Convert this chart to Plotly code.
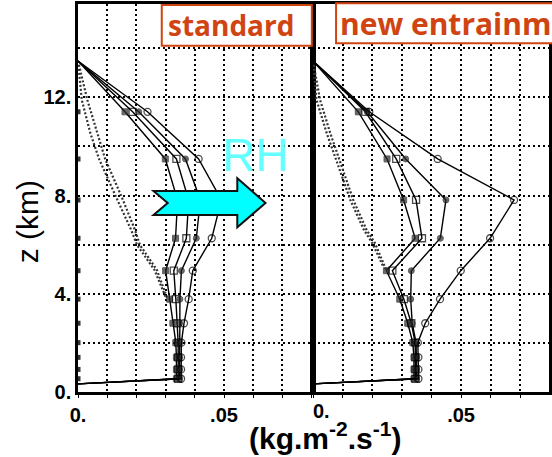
import plotly.graph_objects as go

# ---------------- data ----------------
# model levels (km) carrying markers
levels = [11.41, 9.49, 7.82, 6.26, 4.94, 3.78, 2.80, 2.01, 1.41, 0.92, 0.54]
z_top = 13.48
z_bot = 0.33

# "standard" panel, four RH experiments
std_a = [0.0161, 0.0299, 0.0341, 0.0334, 0.0300, 0.0314, 0.0325, 0.0335, 0.0337, 0.0337, 0.0337]
std_b = [0.0187, 0.0337, 0.0379, 0.0371, 0.0328, 0.0335, 0.0340, 0.0343, 0.0343, 0.0343, 0.0343]
std_c = [0.0208, 0.0368, 0.0419, 0.0405, 0.0354, 0.0349, 0.0348, 0.0348, 0.0348, 0.0348, 0.0348]
std_d = [0.0238, 0.0413, 0.0491, 0.0458, 0.0393, 0.0379, 0.0363, 0.0354, 0.0353, 0.0353, 0.0353]

# "new entrainment" panel
new_a = [0.0153, 0.0250, 0.0306, 0.0345, 0.0248, 0.0293, 0.0320, 0.0337, 0.0341, 0.0341, 0.0341]
new_b = [0.0177, 0.0281, 0.0348, 0.0368, 0.0268, 0.0307, 0.0332, 0.0345, 0.0346, 0.0346, 0.0346]
new_c = [0.0183, 0.0313, 0.0449, 0.0430, 0.0332, 0.0330, 0.0335, 0.0348, 0.0350, 0.0350, 0.0350]
new_d = [0.0190, 0.0421, 0.0679, 0.0598, 0.0499, 0.0429, 0.0379, 0.0354, 0.0356, 0.0356, 0.0356]

# dotted reference profiles
std_dot_z1 = [13.48, 11.89, 10.55, 9.49, 7.82, 6.60, 5.99, 4.97, 3.87, 3.78]
std_dot_x1 = [0.0, 0.0032, 0.0066, 0.0093, 0.0154, 0.0195, 0.0212, 0.0270, 0.0304, 0.0314]
std_dot_z2 = [13.48, 11.89, 10.55, 9.49, 7.82, 6.60, 5.99, 4.97, 3.87]
std_dot_x2 = [0.0, 0.0013, 0.0042, 0.0072, 0.0135, 0.0182, 0.0202, 0.0262, 0.0300]

new_dot_z1 = [13.48, 11.89, 10.55, 9.16, 7.82, 6.60, 6.07, 5.09, 4.94]
new_dot_x1 = [0.0, 0.0024, 0.0058, 0.0097, 0.0136, 0.0181, 0.0209, 0.0243, 0.0248]
new_dot_z2 = [13.48, 11.89, 10.55, 9.16, 7.82, 6.60, 6.07, 5.09]
new_dot_x2 = [0.0, 0.0012, 0.0046, 0.0086, 0.0126, 0.0172, 0.0200, 0.0238]

x_tickvals = [0.0, 0.01, 0.02, 0.03, 0.04, 0.05, 0.06, 0.07, 0.08]
x_ticktext = ["0.", "", "", "", "", ".05", "", "", ""]
y_tickvals = [0, 2, 4, 6, 8, 10, 12, 14]
y_ticktext = ["0.", "", "4.", "", "8.", "", "12.", ""]

# ---------------- figure ----------------
W, H = 552, 457
ML, MR, MT, MB = 78, 0, 4, 65
PW, PH = W - ML - MR, H - MT - MB


def px(xp):
    return (xp - ML) / PW


def py(yp):
    return (H - MB - yp) / PH


fig = go.Figure()

series_style = [
    dict(symbol="square", color="#2a2a2a", line=dict(color="#1a1a1a", width=1), size=6),
    dict(symbol="square-open", color="black", line=dict(color="black", width=1.3), size=7),
    dict(symbol="circle", color="#2a2a2a", line=dict(color="#1a1a1a", width=1), size=6),
    dict(symbol="circle-open", color="black", line=dict(color="black", width=1.3), size=7),
]

zfull = [z_top] + levels + [z_bot]


def add_panel(series, dots, xa, ya):
    for (dx, dz) in dots:
        fig.add_trace(go.Scatter(x=dx, y=dz, mode="lines", xaxis=xa, yaxis=ya,
                                 line=dict(color="#333333", width=2.2, dash="2px,2px"),
                                 showlegend=False, hoverinfo="skip"))
    for vals, st in zip(series, series_style):
        xs = [0.0] + vals + [0.0]
        sizes = [0] + [st["size"]] * len(vals) + [0]
        fig.add_trace(go.Scatter(
            x=xs, y=zfull, mode="lines+markers", xaxis=xa, yaxis=ya,
            line=dict(color="black", width=1.4),
            marker=dict(symbol=st["symbol"], color=st["color"], size=sizes,
                        line=st["line"]),
            showlegend=False, hoverinfo="skip"))


add_panel([std_a, std_b, std_c, std_d],
          [(std_dot_x1, std_dot_z1), (std_dot_x2, std_dot_z2)], "x", "y")
add_panel([new_a, new_b, new_c, new_d],
          [(new_dot_x1, new_dot_z1), (new_dot_x2, new_dot_z2)], "x2", "y2")

# small level marks on the left axis of the standard panel
fig.add_trace(go.Scatter(x=[0.0] * len(levels), y=levels, mode="markers",
                         xaxis="x", yaxis="y",
                         marker=dict(symbol="square", size=5, color="#333333"),
                         showlegend=False, hoverinfo="skip"))

axis_common = dict(
    showgrid=True, gridcolor="black", gridwidth=1.5, griddash="2px,3px",
    zeroline=False, showline=True, linecolor="black", linewidth=2.5, mirror=True,
    tickfont=dict(family="Liberation Sans, Arial", size=20, color="black", weight="bold"),
)

fig.update_layout(
    width=W, height=H,
    margin=dict(l=ML, r=MR, t=MT, b=MB, pad=0),
    paper_bgcolor="white", plot_bgcolor="white",
    showlegend=False,
    xaxis=dict(domain=[0, px(314)], range=[0, 0.0803], tickvals=x_tickvals,
               ticktext=x_ticktext, ticks="outside", ticklen=3, tickcolor="black",
               anchor="y", **axis_common),
    xaxis2=dict(domain=[px(314.5), 1], range=[0, 0.0797], tickvals=x_tickvals,
                ticktext=[""] + x_ticktext[1:], ticks="outside", ticklen=3,
                tickcolor="black", anchor="y2", **axis_common),
    yaxis=dict(range=[0, 15.8], tickvals=y_tickvals, ticktext=y_ticktext,
               ticks="", anchor="x", **axis_common),
    yaxis2=dict(range=[0, 15.8], tickvals=y_tickvals, showticklabels=False,
                ticks="", anchor="x2", matches="y", **axis_common),
)

# ---- decorations ----
orange = "#D04412"
shapes = [
    dict(type="rect", xref="paper", yref="paper", x0=px(162.3), x1=px(313.3),
         y0=py(45.7), y1=py(5), line=dict(color=orange, width=2), fillcolor="white",
         layer="above"),
    dict(type="rect", xref="paper", yref="paper", x0=px(337.7), x1=px(575),
         y0=py(43.3), y1=py(3.3), line=dict(color=orange, width=2), fillcolor="white",
         layer="above"),
]
arrow_pts = [(154, 191), (238.3, 191), (238.3, 178.3), (266.7, 203), (238.3, 227.3),
             (238.3, 215), (154, 215), (168.3, 203)]
path = "M " + " L ".join(f"{px(a):.5f},{py(b):.5f}" for a, b in arrow_pts) + " Z"
shapes.append(dict(type="path", xref="paper", yref="paper", path=path,
                   fillcolor="#00FFFF", line=dict(color="#111111", width=2),
                   layer="above"))
fig.update_layout(shapes=shapes)

ann = [
    dict(text="standard", x=px(231.5), y=py(25), xref="paper", yref="paper",
         showarrow=False, xanchor="center", yanchor="middle",
         font=dict(family="Open Sans", size=28, color=orange, weight="bold")),
    dict(text="new entrainment", x=px(340), y=py(23), xref="paper", yref="paper",
         showarrow=False, xanchor="left", yanchor="middle",
         font=dict(family="Open Sans", size=30, color=orange, weight="bold")),
    dict(text="RH", x=px(256), y=py(155), xref="paper", yref="paper",
         showarrow=False, xanchor="center", yanchor="middle",
         font=dict(family="Liberation Sans, Arial", size=46, color="#66FFFF")),
    dict(text="z (km)", x=px(27.5), y=py(221.5), xref="paper", yref="paper",
         showarrow=False, textangle=-90, xanchor="center", yanchor="middle",
         font=dict(family="Liberation Sans, Arial", size=30, color="black")),
    dict(text="(kg.m<sup>-2</sup>.s<sup>-1</sup>)", x=px(326.5), y=py(457),
         xref="paper", yref="paper", showarrow=False, xanchor="center",
         yanchor="bottom",
         font=dict(family="Liberation Sans, Arial", size=30, color="black",
                   weight="bold")),
    dict(text="0.", x=px(323.5), y=py(411), xref="paper", yref="paper",
         showarrow=False, xanchor="center", yanchor="middle",
         font=dict(family="Liberation Sans, Arial", size=20, color="black",
                   weight="bold")),
]
fig.update_layout(annotations=ann)

fig.write_html("out.html")
